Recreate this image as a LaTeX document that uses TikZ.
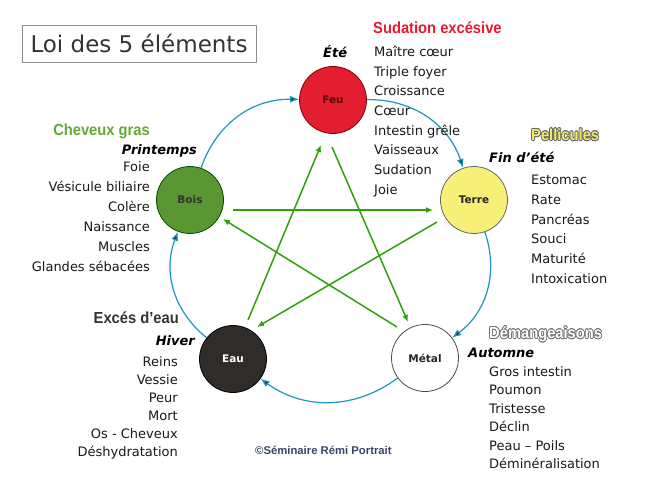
\documentclass[tikz,border=0pt]{standalone}
\usepackage{fontspec}
\setmainfont{DejaVu Sans}
\newfontfamily\headfont[FakeStretch=0.92]{Liberation Sans}
\newfontfamily\copyfont{Liberation Sans}
\usepackage{contour}
\contourlength{0.7pt}
\usetikzlibrary{arrows.meta}
\definecolor{feured}{RGB}{226,30,48}
\definecolor{terreyel}{RGB}{246,240,120}
\definecolor{boisgreen}{RGB}{90,150,50}
\definecolor{eaudark}{RGB}{48,44,42}
\definecolor{cyclecol}{RGB}{30,150,185}
\definecolor{ctrlcol}{RGB}{50,160,10}
\definecolor{headred}{RGB}{235,25,45}
\definecolor{headgreen}{RGB}{100,170,50}
\definecolor{pellyel}{RGB}{240,235,100}
\definecolor{copyblue}{RGB}{60,70,100}
\begin{document}
\begin{tikzpicture}[x=1pt,y=-1pt,line join=round,
  elem/.style={circle,draw,line width=0.8pt,minimum size=67pt,inner sep=0pt,font=\bfseries\fontsize{10.5}{12}\selectfont},
  cyc/.style={cyclecol,line width=1.2pt,-{Latex[length=9pt,width=7pt,fill=black!80]}},
  ctrl/.style={ctrlcol,line width=1.5pt,-{Latex[length=7pt,width=6pt]}},
  lst/.style={inner sep=0pt,font=\fontsize{13}{15}\selectfont,text=black!90},
  season/.style={inner sep=0pt,font=\bfseries\itshape\fontsize{13}{15}\selectfont},
  head/.style={inner sep=0pt,font=\headfont\bfseries\fontsize{16}{18}\selectfont}]
  \fill[white] (0,0) rectangle (648,500);
  \useasboundingbox (0,0) rectangle (648,500);
  % titre
  \node[draw=black!45,line width=0.8pt,minimum width=234pt,minimum height=37pt,
    font=\fontsize{23}{26}\selectfont,text=black!80] (titre) at (139,43.5) {Loi des 5 éléments};
  % les cinq elements
  \node[elem,fill=feured,draw=red!50!black,text=red!40!black] (feu) at (333,100) {Feu};
  \node[elem,fill=terreyel,draw=black!60,text=black!85] (terre) at (474,200) {Terre};
  \node[elem,fill=boisgreen,draw=green!30!black,text=black!80] (bois) at (190,200) {Bois};
  \node[elem,fill=eaudark,draw=black,text=white] (eau) at (233,359) {Eau};
  \node[elem,fill=white,draw=black!70,text=black!85] (metal) at (425,358) {Métal};
  % cycle d'engendrement
  \foreach \a/\b in {feu/terre,terre/metal,metal/eau,eau/bois,bois/feu}
    \draw[cyc] (\a) to[bend left=36] (\b);
  % cycle de controle
  \draw[ctrl] ([shift={(43,10)}]bois.center) -- ([shift={(-41,10)}]terre.center);
  \draw[ctrl] ([shift={(-37,22)}]terre.center) -- ([shift={(24,-32)}]eau.center);
  \draw[ctrl] ([shift={(15,-39)}]eau.center) -- ([shift={(-12,45)}]feu.center);
  \draw[ctrl] ([shift={(-1,47)}]feu.center) -- ([shift={(-17,-36)}]metal.center);
  \draw[ctrl] ([shift={(-28,-31)}]metal.center) -- ([shift={(33,19)}]bois.center);
  % Feu
  \node[head,text=headred,anchor=base west] (feu-h) at (373,33.5) {Sudation excésive};
  \node[season,anchor=base west] (feu-s) at (323,58) {Été};
  \foreach \t [count=\i] in {Maître cœur,Triple foyer,Croissance,Cœur,Intestin grêle,Vaisseaux,Sudation,Joie}
    \node[lst,anchor=base west] (feu-\i) at (374,{56.5+19.7*(\i-1)}) {\t};
  % Terre
  \node[head,text=pellyel,anchor=base west] (terre-h) at (531,140.5) {\contour{black!60}{Pellicules}};
  \node[season,anchor=base west] (terre-s) at (489,163) {Fin d'été};
  \foreach \t [count=\i] in {Estomac,Rate,Pancréas,Souci,Maturité,Intoxication}
    \node[lst,anchor=base west] (terre-\i) at (531,{184.5+19.8*(\i-1)}) {\t};
  % Metal
  \node[head,text=white,anchor=base west] (metal-h) at (489,338.5) {\contour{black!55}{Démangeaisons}};
  \node[season,anchor=base west] (metal-s) at (468,357) {Automne};
  \foreach \t [count=\i] in {Gros intestin,Poumon,Tristesse,Déclin,Peau – Poils,Déminéralisation}
    \node[lst,anchor=base west] (metal-\i) at (489,{376.5+18.4*(\i-1)}) {\t};
  % Bois
  \node[head,text=headgreen,anchor=base east] (bois-h) at (150,135.5) {Cheveux gras};
  \node[season,anchor=base east] (bois-s) at (197,155) {Printemps};
  \foreach \t [count=\i] in {Foie,Vésicule biliaire,Colère,Naissance,Muscles,Glandes sébacées}
    \node[lst,anchor=base east] (bois-\i) at (150,{171.5+20*(\i-1)}) {\t};
  % Eau
  \node[head,text=black!80,anchor=base east] (eau-h) at (179,323.5) {Excés d’eau};
  \node[season,anchor=base east] (eau-s) at (195,345) {Hiver};
  \foreach \t [count=\i] in {Reins,Vessie,Peur,Mort,Os - Cheveux,Déshydratation}
    \node[lst,anchor=base east] (eau-\i) at (178,{366.5+18*(\i-1)}) {\t};
  % copyright
  \node[inner sep=0pt,anchor=base west,text=copyblue,
    font=\copyfont\bfseries\fontsize{11.3}{13}\selectfont] (copy) at (255,454.5) {©Séminaire Rémi Portrait};
\end{tikzpicture}
\end{document}
